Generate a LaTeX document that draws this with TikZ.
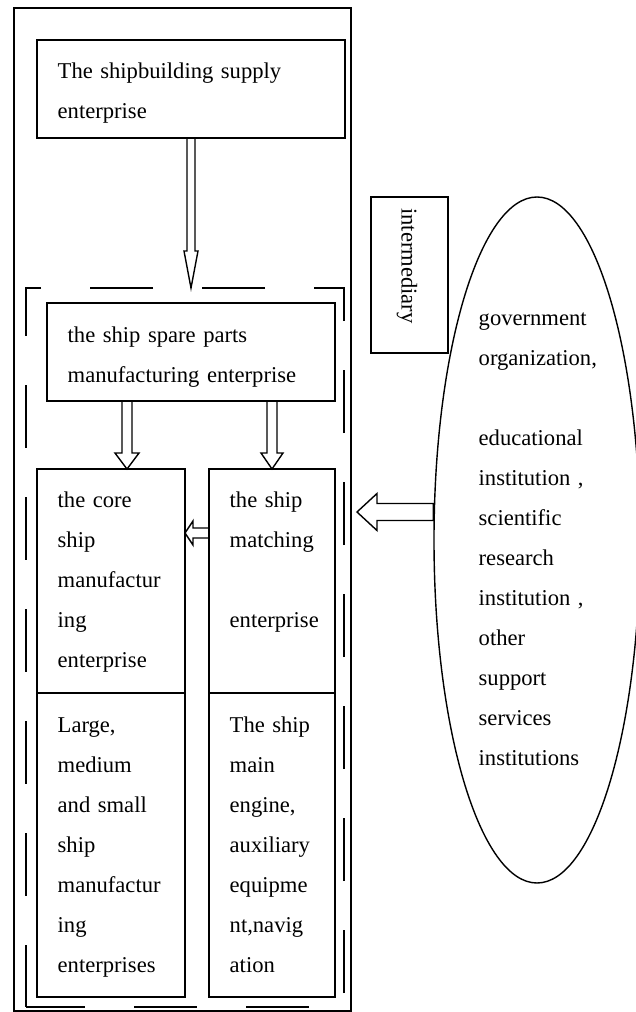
\documentclass[tikz,border=0pt]{standalone}
\usepackage{fontspec}
\setmainfont{Liberation Serif}
\usetikzlibrary{calc}
\usetikzlibrary{shapes.geometric}

\tikzset{
  box/.style={draw, rectangle, anchor=north west, inner sep=0pt, outer sep=0pt},
  txt/.style={anchor=base west, inner sep=0pt, text width=#1, align=left},
  fat/.style n args={3}{line width=1.2pt, fill=white, to path={
    ($(\tikztotarget)!#3!(\tikztostart)$) coordinate (fathead)
    ($(\tikztostart)!#1!90:(\tikztotarget)$) -- ($(fathead)!#1!-90:(\tikztostart)$)
    -- ($(fathead)!#2!-90:(\tikztostart)$) -- (\tikztotarget)
    -- ($(fathead)!#2!90:(\tikztostart)$) -- ($(fathead)!#1!90:(\tikztostart)$)
    -- ($(\tikztostart)!#1!-90:(\tikztotarget)$) -- cycle}}
}

\begin{document}
\begin{tikzpicture}[x=1pt, y=-1pt, line width=1.4pt, font=\fontsize{22.6}{40}\selectfont]
\useasboundingbox (0,0) rectangle (635,1012);
\begin{scope}
% draws boxes
\node[box, minimum width=337pt, minimum height=1003pt] (frame) at (14,8) {};
\node[box, dash pattern=on 63pt off 49pt, dash phase=4pt, minimum width=318pt, minimum height=719pt] (cluster) at (26,288) {};
\node[box, minimum width=308pt, minimum height=98pt] (sup) at (37,40) {};
\node[box, minimum width=288pt, minimum height=98pt] (spare) at (47,303) {};
\node[box, minimum width=148pt, minimum height=224pt] (core) at (37,469) {};
\node[box, minimum width=148pt, minimum height=304pt] (large) at (37,693) {};
\node[box, minimum width=126pt, minimum height=224pt] (match) at (209,469) {};
\node[box, minimum width=126pt, minimum height=304pt] (engine) at (209,693) {};
\node[box, minimum width=77pt, minimum height=156pt] (inter) at (371,197) {};
\node[draw, ellipse, inner sep=0pt, minimum width=206pt, minimum height=686pt] (ell) at (537,540) {};
% labels boxes
\node[txt=290pt] (suptext) at (57,78) {The shipbuilding supply\\enterprise};
\node[txt=270pt] (sparetext) at (67,342) {the ship spare parts\\manufacturing enterprise};
\node[txt=125pt] (coretext) at (57,507) {the core\\ship\\manufactur\\ing\\enterprise};
\node[txt=125pt] (largetext) at (57,732) {Large,\\medium\\and small\\ship\\manufactur\\ing\\enterprises};
\node[txt=105pt] (matchtext) at (229,507) {the ship\\matching\\[40pt]enterprise};
\node[txt=105pt] (enginetext) at (229,732) {The ship\\main\\engine,\\auxiliary\\equipme\\nt,navig\\ation};
\node[rotate=-90, inner sep=0pt] (intertext) at (407,266) {intermediary};
\node[txt=150pt] (elltext) at (478,325) {government\\organization,\\[40pt]educational\\institution ,\\scientific\\research\\institution ,\\other\\support\\services\\institutions};
% draws arrows
\coordinate (l) at ([xshift=80pt]spare.south west);
\coordinate (m) at ([yshift=-64pt]match.north west);
\coordinate (g) at ([yshift=28pt]ell.west);
\coordinate (gt) at ([xshift=13pt]g -| cluster.east);
\draw (sup.south) to[fat={4pt}{7pt}{37pt}] (sup.south |- cluster.north);
\draw (l) to[fat={5pt}{12pt}{16pt}] (l |- core.north);
\draw (spare.south -| match.north) to[fat={5pt}{11pt}{16pt}] (match.north);
\draw (m) to[fat={5pt}{12pt}{8pt}] (m -| core.east);
\draw (g) to[fat={8.5pt}{18.5pt}{20pt}] (gt);
\end{scope}
\end{tikzpicture}
\end{document}
